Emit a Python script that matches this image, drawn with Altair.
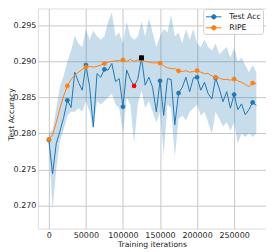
import altair as alt
import pandas as pd

iterations = list(range(0, 280001, 5000))

test_acc = [0.2791, 0.2744, 0.2786, 0.2803, 0.2822, 0.2846, 0.2836, 0.2885, 0.2871, 0.2860,
            0.2895, 0.2865, 0.2809, 0.2883, 0.2878, 0.2889, 0.2888, 0.2897, 0.2872, 0.2876,
            0.2837, 0.2888, 0.2875, 0.2866, 0.2875, 0.2905, 0.2867, 0.2878, 0.2864, 0.2830,
            0.2873, 0.2825, 0.2876, 0.2875, 0.2812, 0.2856, 0.2864, 0.2878, 0.2858, 0.2877,
            0.2878, 0.2860, 0.2871, 0.2855, 0.2848, 0.2877, 0.2862, 0.2844, 0.2858, 0.2835,
            0.2854, 0.2833, 0.2841, 0.2826, 0.2833, 0.2843, 0.2839]

band_upper = [0.2800, 0.2805, 0.2835, 0.2865, 0.2880, 0.2900, 0.2915, 0.2936, 0.2925, 0.2920,
              0.2945, 0.2930, 0.2943, 0.2935, 0.2930, 0.2935, 0.2955, 0.2968, 0.2935, 0.2940,
              0.2925, 0.2955, 0.2935, 0.2930, 0.2934, 0.2955, 0.2935, 0.2960, 0.2940, 0.2920,
              0.2935, 0.2945, 0.2940, 0.2965, 0.2935, 0.2940, 0.2925, 0.2945, 0.2930, 0.2945,
              0.2925, 0.2920, 0.2930, 0.2920, 0.2915, 0.2925, 0.2910, 0.2915, 0.2920, 0.2905,
              0.2919, 0.2900, 0.2905, 0.2895, 0.2885, 0.2895, 0.2885]

band_lower = [0.2785, 0.2694, 0.2750, 0.2790, 0.2805, 0.2825, 0.2830, 0.2830, 0.2835, 0.2830,
              0.2845, 0.2830, 0.2805, 0.2845, 0.2840, 0.2845, 0.2850, 0.2855, 0.2840, 0.2835,
              0.2800, 0.2850, 0.2840, 0.2786, 0.2840, 0.2860, 0.2835, 0.2845, 0.2830, 0.2815,
              0.2830, 0.2769, 0.2840, 0.2835, 0.2767, 0.2820, 0.2825, 0.2818, 0.2830, 0.2835,
              0.2840, 0.2825, 0.2830, 0.2815, 0.2800, 0.2830, 0.2820, 0.2810, 0.2815, 0.2804,
              0.2815, 0.2786, 0.2800, 0.2795, 0.2800, 0.2795, 0.2800]

ripe = [0.27916, 0.2798, 0.2815, 0.2835, 0.2852, 0.2866, 0.2875, 0.2881, 0.2885, 0.2889,
        0.2892, 0.2893, 0.2892, 0.2893, 0.2895, 0.2897, 0.2899, 0.2900, 0.2901, 0.2901,
        0.2902, 0.2900, 0.2903, 0.2900, 0.2902, 0.2903, 0.2900, 0.2899, 0.2898, 0.2898,
        0.28976, 0.2894, 0.2891, 0.2890, 0.2890, 0.28868, 0.2886, 0.2887, 0.2885, 0.2886,
        0.28871, 0.2885, 0.2883, 0.2883, 0.2880, 0.2878, 0.2877, 0.2875, 0.2875, 0.2874,
        0.28755, 0.2873, 0.2871, 0.2868, 0.2865, 0.2870, 0.2869]

series_names = ["Test Acc", "RIPE"]
series_colors = ["#1f77b4", "#ff7f0e"]
marker_every = 5
red_index = 23
best_index = 25

rows = []
for i, it in enumerate(iterations):
    rows.append({"it": it, "series": "Test Acc", "val": test_acc[i], "lo": band_lower[i],
                 "hi": band_upper[i], "idx": i})
    rows.append({"it": it, "series": "RIPE", "val": ripe[i], "lo": None, "hi": None, "idx": i})
df = pd.DataFrame(rows)
df["mark"] = df["idx"] % marker_every == 0

FONT = "DejaVu Sans"
xscale = alt.Scale(domain=[-14785, 293011], nice=False, zero=False)
yscale = alt.Scale(domain=[0.26678, 0.29735], nice=False, zero=False)

xaxis = alt.Axis(values=[0, 50000, 100000, 150000, 200000, 250000], format="d",
                 title="Training iterations", grid=True, gridColor="#c8c8c8", gridWidth=1,
                 ticks=False, domain=False, labelFontSize=8, labelColor="#222",
                 labelPadding=3, labelFont=FONT, titleFont=FONT, titleFontSize=7.7,
                 titleFontWeight="normal", titleColor="#222", titleBaseline="alphabetic",
                 titleY=18)
yaxis = alt.Axis(values=[0.270, 0.275, 0.280, 0.285, 0.290, 0.295], format=".3f",
                 title="Test Accuracy", grid=True, gridColor="#c8c8c8", gridWidth=1,
                 ticks=False, domain=False, labelFontSize=8, labelColor="#222",
                 labelPadding=2, labelFont=FONT, titleFont=FONT, titleFontSize=7.7,
                 titleFontWeight="normal", titleColor="#222", titleAngle=270,
                 titleBaseline="alphabetic", titleX=-24.7, titleY=106, titleAlign="center")

base = alt.Chart(df)
color_scale = alt.Scale(domain=series_names, range=series_colors)

sym_path = ("M-0.9,0L1.81,0M0.846,0A0.38,0.38,0,1,1,0.086,0"
            "A0.38,0.38,0,1,1,0.846,0Z")
legend = alt.Legend(title=None, orient="none", legendX=166, legendY=0.5,
                    symbolType=sym_path, symbolSize=135, symbolStrokeWidth=1,
                    labelFontSize=7.8, labelFont=FONT, labelColor="#222",
                    labelOffset=11.7, padding=1.4, rowPadding=0,
                    fillColor="rgba(255,255,255,0.8)", strokeColor="#d0d0d0",
                    cornerRadius=2)

band = base.transform_filter(alt.datum.series == "Test Acc").mark_area(
    color="#1f77b4", opacity=0.25, interpolate="linear").encode(
    x=alt.X("it:Q", scale=xscale, axis=xaxis),
    y=alt.Y("lo:Q", scale=yscale, axis=yaxis),
    y2="hi:Q")

lines = base.mark_line(strokeWidth=1).encode(
    x="it:Q", y="val:Q",
    stroke=alt.Stroke("series:N", scale=color_scale, legend=legend),
    order="it:Q", detail="series:N")

points = base.transform_filter(alt.datum.mark).mark_point(
    filled=True, size=18, strokeWidth=0.5, opacity=1).encode(
    x="it:Q", y="val:Q",
    fill=alt.Fill("series:N", scale=color_scale, legend=legend),
    stroke=alt.Stroke("series:N", scale=color_scale, legend=legend),
    order=alt.Order("series:N", sort="descending"))

red = base.transform_filter((alt.datum.series == "Test Acc") & (alt.datum.idx == red_index)).mark_point(
    filled=True, size=22, color="#ff0000", opacity=1).encode(x="it:Q", y="val:Q")

best = base.transform_filter((alt.datum.series == "Test Acc") & (alt.datum.idx == best_index)).mark_point(
    filled=True, shape="square", size=24, color="#000000", opacity=1).encode(x="it:Q", y="val:Q")

chart = alt.layer(band, lines, points, red, best).properties(
    width=229, height=221,
    autosize=alt.AutoSizeParams(type="none"),
    padding={"left": 30, "top": 0, "right": 0, "bottom": 22},
).configure_view(stroke="#555", strokeWidth=1).configure(background="white")

chart.save("out.html", embed_options={"renderer": "svg", "actions": False})
